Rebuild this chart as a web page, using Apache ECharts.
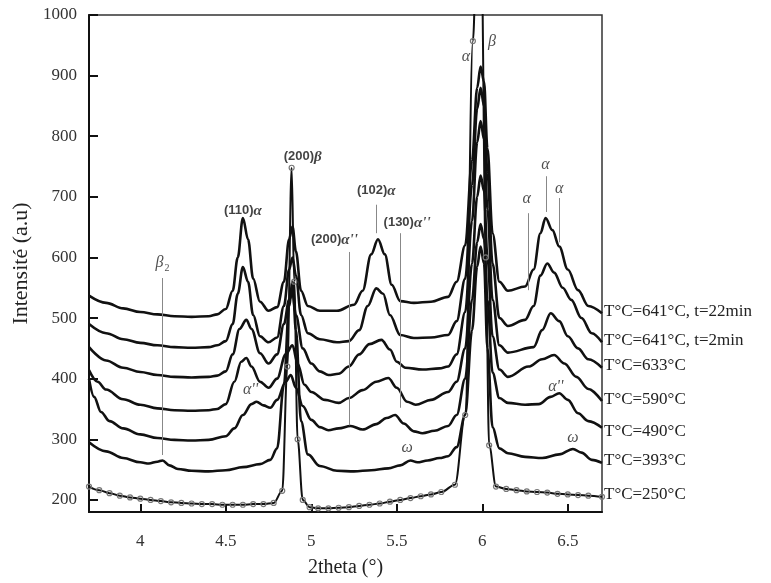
<!DOCTYPE html>
<html>
<head>
<meta charset="utf-8">
<script src="https://cdn.jsdelivr.net/npm/echarts@6/dist/echarts.min.js"></script>
<style>
  html, body { margin: 0; padding: 0; background: #fff; }
  #xrd { width: 771px; height: 583px; }
</style>
</head>
<body>
<div id="xrd"></div>
<script>
// diffractograms [2theta, intensity]
const c641_22 = [[3.7,537],[3.8,525],[3.9,516],[4.0,510],[4.1,506],[4.2,503],[4.3,502],[4.4,503],[4.45,506],[4.5,515],[4.54,545],[4.57,600],[4.6,665],[4.63,630],[4.66,565],[4.7,527],[4.75,512],[4.8,518],[4.84,560],[4.87,630],[4.89,651],[4.91,610],[4.94,545],[4.98,520],[5.05,512],[5.15,512],[5.25,522],[5.3,545],[5.35,605],[5.39,630],[5.43,605],[5.47,555],[5.52,528],[5.6,525],[5.7,527],[5.8,535],[5.85,560],[5.9,620],[5.94,760],[5.97,880],[5.99,915],[6.01,890],[6.03,780],[6.06,640],[6.1,560],[6.15,545],[6.25,552],[6.3,580],[6.34,640],[6.37,665],[6.41,645],[6.45,618],[6.5,580],[6.56,546],[6.62,520],[6.7,508]];
const c641_2 = [[3.7,490],[3.8,475],[3.9,465],[4.0,459],[4.1,455],[4.2,452],[4.3,451],[4.4,452],[4.45,455],[4.5,462],[4.54,490],[4.57,540],[4.6,584],[4.63,560],[4.66,505],[4.7,470],[4.75,460],[4.8,468],[4.84,520],[4.87,580],[4.89,600],[4.91,570],[4.94,505],[4.98,475],[5.05,465],[5.15,460],[5.22,462],[5.28,480],[5.33,520],[5.38,549],[5.42,540],[5.46,505],[5.52,472],[5.6,467],[5.7,468],[5.8,472],[5.85,495],[5.9,565],[5.94,720],[5.97,845],[5.99,880],[6.01,850],[6.03,740],[6.06,590],[6.1,500],[6.15,487],[6.25,497],[6.3,520],[6.34,570],[6.38,590],[6.42,575],[6.47,550],[6.52,530],[6.58,500],[6.64,475],[6.7,460]];
const c633 = [[3.7,452],[3.8,430],[3.9,418],[4.0,411],[4.1,406],[4.2,403],[4.3,402],[4.4,403],[4.45,405],[4.5,412],[4.54,440],[4.58,482],[4.62,497],[4.65,482],[4.7,442],[4.75,425],[4.8,440],[4.84,490],[4.87,530],[4.89,540],[4.91,505],[4.95,450],[5.0,425],[5.05,412],[5.1,406],[5.16,408],[5.22,420],[5.28,440],[5.34,457],[5.41,464],[5.46,448],[5.5,428],[5.55,418],[5.65,415],[5.75,417],[5.8,420],[5.85,440],[5.9,510],[5.94,660],[5.97,790],[5.99,825],[6.01,795],[6.03,680],[6.06,530],[6.1,455],[6.15,443],[6.3,452],[6.35,480],[6.4,508],[6.45,495],[6.5,470],[6.56,450],[6.62,432],[6.7,418]];
const c590 = [[3.7,414],[3.75,395],[3.8,382],[3.9,366],[4.0,357],[4.1,351],[4.2,348],[4.3,347],[4.4,348],[4.45,350],[4.5,358],[4.55,395],[4.59,428],[4.62,434],[4.65,420],[4.7,395],[4.75,385],[4.8,400],[4.85,440],[4.89,455],[4.92,425],[4.96,390],[5.0,378],[5.08,365],[5.16,360],[5.22,368],[5.3,381],[5.38,395],[5.45,401],[5.5,385],[5.56,362],[5.61,357],[5.7,365],[5.8,378],[5.85,395],[5.9,450],[5.94,590],[5.97,700],[5.99,735],[6.01,710],[6.03,600],[6.06,470],[6.1,415],[6.15,403],[6.27,420],[6.35,432],[6.42,439],[6.48,425],[6.55,403],[6.62,383],[6.7,363]];
const c490 = [[3.7,400],[3.73,370],[3.77,345],[3.82,330],[3.9,318],[4.0,308],[4.1,302],[4.2,299],[4.3,298],[4.4,299],[4.5,305],[4.55,318],[4.6,340],[4.65,358],[4.68,362],[4.72,356],[4.76,352],[4.8,365],[4.85,395],[4.88,406],[4.91,385],[4.95,355],[5.0,332],[5.05,320],[5.1,315],[5.16,318],[5.23,322],[5.3,316],[5.38,325],[5.44,335],[5.49,340],[5.54,326],[5.6,313],[5.65,310],[5.72,314],[5.8,322],[5.85,340],[5.9,400],[5.94,530],[5.97,625],[5.99,655],[6.01,630],[6.03,530],[6.06,410],[6.1,368],[6.15,360],[6.25,357],[6.33,358],[6.4,370],[6.45,376],[6.5,365],[6.56,343],[6.62,330],[6.7,319]];
const c393 = [[3.7,295],[3.8,280],[3.9,269],[4.0,262],[4.05,260],[4.1,263],[4.13,265],[4.17,257],[4.22,251],[4.3,248],[4.4,247],[4.5,249],[4.6,254],[4.7,259],[4.76,266],[4.8,285],[4.84,390],[4.87,520],[4.89,560],[4.91,480],[4.94,330],[4.98,275],[5.05,256],[5.15,248],[5.25,247],[5.35,249],[5.45,252],[5.52,257],[5.58,265],[5.62,262],[5.68,265],[5.75,269],[5.8,272],[5.85,287],[5.9,340],[5.94,480],[5.97,585],[5.99,618],[6.01,590],[6.03,450],[6.06,320],[6.1,285],[6.15,277],[6.25,271],[6.35,269],[6.45,275],[6.53,284],[6.58,278],[6.64,266],[6.7,261]];
const c250 = [[3.7,222],[3.76,216],[3.82,211],[3.88,207],[3.94,204],[4.0,202],[4.06,200],[4.12,198],[4.18,196],[4.24,195],[4.3,194],[4.36,193],[4.42,193],[4.48,192],[4.54,192],[4.6,192],[4.66,193],[4.72,193],[4.78,195],[4.83,215],[4.86,420],[4.885,748],[4.9,560],[4.92,300],[4.95,200],[4.99,188],[5.04,186],[5.1,186],[5.16,187],[5.22,188],[5.28,190],[5.34,192],[5.4,194],[5.46,197],[5.52,200],[5.58,203],[5.64,206],[5.7,209],[5.76,213],[5.84,225],[5.9,340],[5.945,957],[5.97,1150],[5.995,1100],[6.02,600],[6.04,290],[6.08,222],[6.14,218],[6.2,216],[6.26,214],[6.32,213],[6.38,212],[6.44,210],[6.5,209],[6.56,208],[6.62,207],[6.7,205]];

const curveNames = ['T°C=641°C, t=22min', 'T°C=641°C, t=2min', 'T°C=633°C', 'T°C=590°C', 'T°C=490°C', 'T°C=393°C', 'T°C=250°C'];
const curves = [c641_22, c641_2, c633, c590, c490, c393, c250];

const xTicks = [4, 4.5, 5, 5.5, 6, 6.5];
const yTicks = [200, 300, 400, 500, 600, 700, 800, 900, 1000];

// peak labels and their guide lines
const annotText = ['β2', '(110)α', '(200)β', '(102)α', "(200)α''", "(130)α''", 'α', 'β', 'α', 'α', 'α', "α''", "α''", 'ω', 'ω'];
const annotX = [4.13, 4.6, 4.95, 5.38, 5.135, 5.56, 5.905, 6.056, 6.26, 6.37, 6.45, 4.645, 6.43, 5.56, 6.53];
const annotY = [591, 677, 766, 710, 629, 657, 931, 955, 696, 753, 714, 381, 387, 286, 302];

const guideX = [4.13, 5.38, 5.22, 5.52, 6.27, 6.375, 6.45];
const guideTop = [566, 687, 609, 640, 673, 734, 698];
const guideBottom = [274, 640, 323, 352, 546, 675, 625];

const chart = echarts.init(document.getElementById('xrd'));

function fmtAnnot(t) {
  if (t[0] === '(') {
    const i = t.indexOf(')');
    return '{p|' + t.slice(0, i + 1) + '}{pg|' + t.slice(i + 1) + '}';
  }
  if (/\d$/.test(t)) return '{s|' + t.slice(0, -1) + '}{sub|' + t.slice(-1) + '}';
  return '{s|' + t + '}';
}

const serif = '"Liberation Serif", "DejaVu Serif", serif';

const lineSeries = curves.map((c, i) => {
  const is250 = i === curves.length - 1;
  return {
    name: curveNames[i],
    type: 'line',
    data: c,
    smooth: 0.35,
    smoothMonotone: 'x',
    symbol: is250 ? 'circle' : 'none',
    symbolSize: 5,
    showAllSymbol: true,
    itemStyle: { color: 'rgba(255,255,255,0)', borderColor: '#777', borderWidth: 1.2 },
    lineStyle: { color: '#111', width: is250 ? 2 : 2.6 },
    z: is250 ? 3 : 2,
    endLabel: {
      show: true,
      formatter: '{a}',
      fontFamily: serif,
      fontSize: 17,
      color: '#222',
      distance: 2,
      offset: i === 4 ? [0, 4] : [0, -2]
    }
  };
});

const option = {
  animation: false,
  backgroundColor: '#fff',
  grid: {
    left: 89,
    right: 169,
    top: 15,
    bottom: 71,
    containLabel: false,
    outerBoundsMode: 'none',
    show: true,
    borderColor: '#333',
    borderWidth: 1.5
  },
  xAxis: {
    type: 'value',
    min: 3.7,
    max: 6.7,
    name: '2theta (°)',
    nameLocation: 'middle',
    nameGap: 46,
    nameTextStyle: { fontFamily: serif, fontSize: 20, color: '#222' },
    axisLine: { onZero: false, lineStyle: { color: '#111', width: 2 } },
    axisTick: { inside: true, length: 8, customValues: xTicks, lineStyle: { color: '#111', width: 2 } },
    axisLabel: { customValues: xTicks, margin: 21, fontFamily: serif, fontSize: 17, color: '#333' },
    splitLine: { show: false }
  },
  yAxis: {
    type: 'value',
    min: 180,
    max: 1000,
    name: 'Intensité (a.u)',
    nameLocation: 'middle',
    nameGap: 57,
    nameTextStyle: { fontFamily: serif, fontSize: 22, color: '#222' },
    axisLine: { show: true, lineStyle: { color: '#111', width: 2 } },
    axisTick: { show: true, inside: true, length: 9, customValues: yTicks, lineStyle: { color: '#111', width: 2 } },
    axisLabel: { customValues: yTicks, margin: 12, fontFamily: serif, fontSize: 17, color: '#333', formatter: v => String(v) },
    splitLine: { show: false }
  },
  series: [
    {
      type: 'line',
      data: [],
      silent: true,
      markLine: {
        silent: true,
        symbol: 'none',
        label: { show: false },
        lineStyle: { color: '#888', width: 1, type: 'solid' },
        data: guideX.map((x, i) => [{ coord: [x, guideTop[i]] }, { coord: [x, guideBottom[i]] }])
      }
    },
    ...lineSeries,
    {
      type: 'scatter',
      silent: true,
      symbolSize: 0,
      z: 5,
      data: annotX.map((x, i) => [x, annotY[i]]),
      label: {
        show: true,
        position: 'inside',
        formatter: p => fmtAnnot(annotText[p.dataIndex]),
        rich: {
          p: { fontFamily: '"Liberation Sans", Arial, sans-serif', fontWeight: 'bold', fontSize: 13, color: '#111' },
          pg: { fontFamily: serif, fontStyle: 'italic', fontWeight: 'bold', fontSize: 15, color: '#111' },
          s: { fontFamily: serif, fontStyle: 'italic', fontSize: 16, color: '#222' },
          sub: { fontFamily: serif, fontSize: 10, color: '#222', padding: [10, 0, 0, 1] }
        }
      }
    }
  ]
};

chart.setOption(option);
window.addEventListener('resize', () => chart.resize());
</script>
</body>
</html>
